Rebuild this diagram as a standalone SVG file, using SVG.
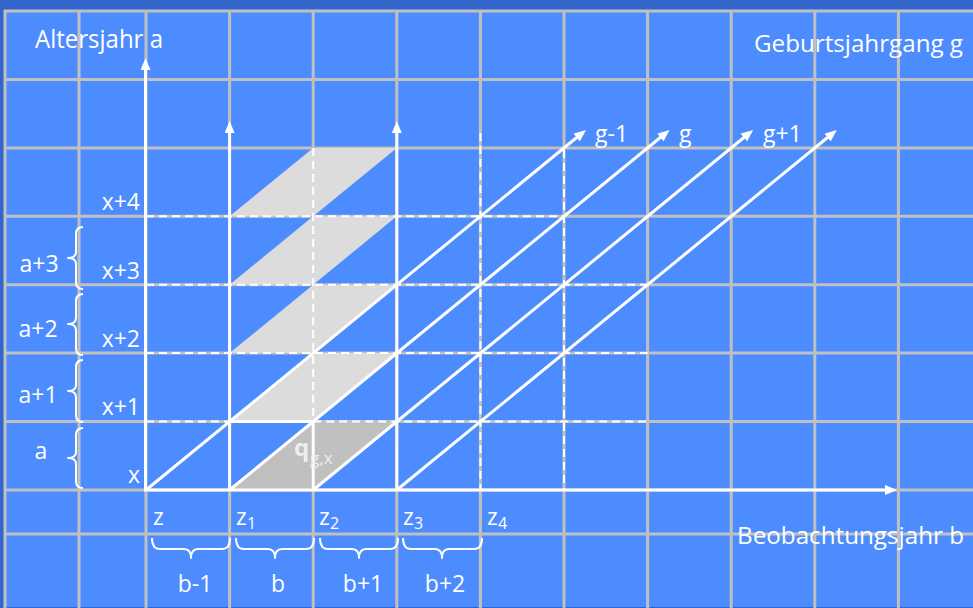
<svg xmlns="http://www.w3.org/2000/svg" width="973" height="608" viewBox="0 0 973 608">
<defs>
<style>
.grid{stroke:#c0c0c0;stroke-width:3;fill:none}
.w{stroke:#ffffff;stroke-width:3;fill:none}
.d{stroke:#ffffff;stroke-width:2;stroke-dasharray:8 5;fill:none}
.br{stroke:#ffffff;stroke-width:2;fill:none;stroke-linejoin:round}
.t{font-family:"Open Sans","Noto Sans","Liberation Sans",sans-serif;fill:#ffffff}
.big{font-size:25px}
.lab{font-size:23px}
.sub{font-size:16px}
.lg{fill:#dcdcdc}
.dg{fill:#c0c0c0}
</style>
<marker id="ah" markerWidth="12" markerHeight="10" refX="4" refY="5" orient="auto" markerUnits="userSpaceOnUse">
<path d="M0,0 L12,5 L0,10 z" fill="#ffffff"/>
</marker>
</defs>
<rect x="0" y="0" width="973" height="608" fill="#3366cc"/>
<rect x="4" y="10" width="969" height="597" fill="#4d8cff"/>
<g id="grid" class="grid">
<path d="M5,10V608M79,10V608M146,10V608M229.6,10V608M313.2,10V608M396.8,10V608M480.4,10V608M564,10V608M647.6,10V608M731.2,10V608M814.8,10V608M898.4,10V608"/>
<path d="M4,11H973M4,79.4H973M4,147.9H973M4,216.3H973M4,284.7H973M4,353.1H973M4,421.6H973M4,490H973M4,534H973"/>
</g>
<g id="areas">
<polygon class="lg" points="229.6,421.6 313.2,421.6 396.8,353.1 313.2,353.1"/>
<polygon class="lg" points="229.6,353.1 313.2,353.1 396.8,284.7 313.2,284.7"/>
<polygon class="lg" points="229.6,284.7 313.2,284.7 396.8,216.3 313.2,216.3"/>
<polygon class="lg" points="229.6,216.3 313.2,216.3 396.8,147.9 313.2,147.9"/>
<polygon class="dg" points="229.6,490 313.2,490 396.8,421.6 313.2,421.6"/>
</g>
<g id="connectors">
<path class="d" d="M146,216.3H564M146,284.7H647.6M146,353.1H647.6M313.2,421.6H647.6"/>
<path class="d" d="M146,421.6H229.6"/>
<path class="d" d="M313.2,147.9V421.6M480.4,133V490M564,150V490"/>
<path class="w" d="M229.6,421.6H313.2M313.2,421.6V490"/>
<line class="w" x1="145.5" y1="490" x2="145.5" y2="66" marker-end="url(#ah)"/>
<line class="w" x1="229.6" y1="490" x2="229.6" y2="129" marker-end="url(#ah)"/>
<line class="w" x1="396.8" y1="490" x2="396.8" y2="129" marker-end="url(#ah)"/>
<line class="w" x1="144" y1="490" x2="889" y2="490" marker-end="url(#ah)"/>
<line class="w" x1="146" y1="490" x2="579.8" y2="135" marker-end="url(#ah)"/>
<line class="w" x1="229.6" y1="490" x2="663.4" y2="135" marker-end="url(#ah)"/>
<line class="w" x1="313.2" y1="490" x2="747" y2="135" marker-end="url(#ah)"/>
<line class="w" x1="396.8" y1="490" x2="830.6" y2="135" marker-end="url(#ah)"/>
</g>
<g id="braces" class="br">
<path d="M83,227 Q76,227 76,234 L76,252 Q76,258 68,258 Q76,258 76,264 L76,282 Q76,289 83,289"/>
<path d="M83,294 Q76,294 76,301 L76,318 Q76,324 68,324 Q76,324 76,330 L76,348 Q76,355 83,355"/>
<path d="M83,360 Q76,360 76,367 L76,385 Q76,391 68,391 Q76,391 76,397 L76,415 Q76,422 83,422"/>
<path d="M83,428 Q76,428 76,435 L76,452 Q76,458 68,458 Q76,458 76,464 L76,481 Q76,488 83,488"/>
<path d="M152,538 Q152,549 160,549 L184,549 Q191,549 191,558 Q191,549 198,549 L222,549 Q230,549 230,538"/>
<path d="M236,538 Q236,549 244,549 L268,549 Q275,549 275,558 Q275,549 282,549 L306,549 Q314,549 314,538"/>
<path d="M320,538 Q320,549 328,549 L352,549 Q359,549 359,558 Q359,549 366,549 L390,549 Q398,549 398,538"/>
<path d="M403,538 Q403,549 411,549 L435,549 Q442,549 442,558 Q442,549 449,549 L474,549 Q482,549 482,538"/>
</g>
<g id="titles" class="t big">
<text x="35" y="48" textLength="128" lengthAdjust="spacingAndGlyphs">Altersjahr a</text>
<text x="754" y="52" textLength="209" lengthAdjust="spacingAndGlyphs" style="font-size:24px">Geburtsjahrgang g</text>
<text x="737" y="544" textLength="227" lengthAdjust="spacingAndGlyphs" style="font-size:23px">Beobachtungsjahr b</text>
</g>
<g id="cohort-labels" class="t lab">
<text x="595" y="142">g-1</text>
<text x="679" y="142">g</text>
<text x="763" y="142">g+1</text>
</g>
<g id="age-labels" class="t lab" text-anchor="end">
<text x="140" y="210">x+4</text>
<text x="140" y="279">x+3</text>
<text x="140" y="347">x+2</text>
<text x="140" y="415">x+1</text>
<text x="140" y="483">x</text>
</g>
<g id="interval-labels" class="t lab" text-anchor="middle">
<text x="39" y="272">a+3</text>
<text x="38" y="337">a+2</text>
<text x="38" y="403">a+1</text>
<text x="41" y="459">a</text>
<text x="195" y="592">b-1</text>
<text x="278" y="592">b</text>
<text x="363" y="592">b+1</text>
<text x="445" y="592">b+2</text>
</g>
<g id="year-labels" class="t">
<text x="153" y="525" class="lab">z</text>
<text x="236" y="525" class="lab">z</text><text x="247" y="529" class="sub">1</text>
<text x="319" y="525" class="lab">z</text><text x="330" y="529" class="sub">2</text>
<text x="403" y="525" class="lab">z</text><text x="414" y="529" class="sub">3</text>
<text x="487" y="525" class="lab">z</text><text x="498" y="529" class="sub">4</text>
</g>
<g id="q-label" class="t" style="fill:#eeeeee">
<text x="294" y="456" style="font-size:24px;font-weight:bold">q</text>
<text x="310" y="464" style="font-size:17px">g,x</text>
</g>
</svg>
